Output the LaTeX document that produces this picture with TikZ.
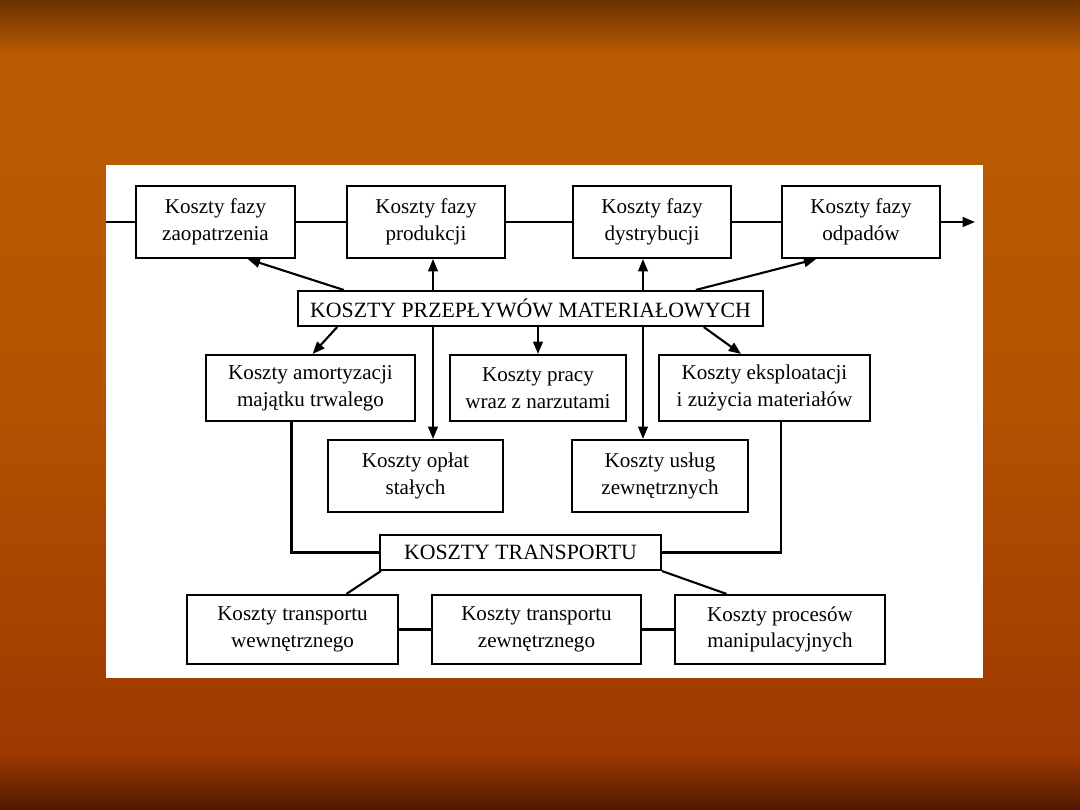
\documentclass[tikz,border=0pt]{standalone}
\usepackage{fontspec}
\setmainfont{Liberation Serif}
\usetikzlibrary{arrows.meta,calc}
\definecolor{bgtop}{HTML}{6A3300}
\definecolor{bglight}{HTML}{BB5C02}
\definecolor{bgmid}{HTML}{B55200}
\definecolor{bglow}{HTML}{9E3800}
\definecolor{bgbottom}{HTML}{4E1800}
\tikzset{
  costbox/.style={
    draw=black,
    line width=1.2pt,
    fill=white,
    align=center,
    inner sep=0pt,
    font=\fontsize{12}{15.3}\selectfont,
    minimum height=1.44cm
  },
  headbox/.style={costbox, minimum height=0.7cm, font=\fontsize{12.4}{14}\selectfont},
  flow/.style={line width=1.2pt, draw=black, -{Triangle[length=7pt,width=5.5pt]}},
  link/.style={line width=1.2pt, draw=black}
}

\begin{document}
\begin{tikzpicture}[x=0.02cm,y=-0.02cm]
\useasboundingbox (0,0) rectangle (1080,810);
% background of the slide
\fill[top color=bgtop, bottom color=bglight] (0,0) rectangle (1080,55);
\fill[top color=bglight, bottom color=bgmid] (0,54.5) rectangle (1080,400);
\fill[top color=bgmid, bottom color=bglow] (0,399.5) rectangle (1080,755);
\fill[top color=bglow, bottom color=bgbottom] (0,754.5) rectangle (1080,810);
\fill[white] (106,165) rectangle (983,678);

% phases
\node[costbox, minimum width=3.18cm] (zaop) at (215.5,222) {Koszty fazy\\zaopatrzenia};
\node[costbox, minimum width=3.16cm] (prod) at (426,222) {Koszty fazy\\produkcji};
\node[costbox, minimum width=3.16cm] (dyst) at (652,222) {Koszty fazy\\dystrybucji};
\node[costbox, minimum width=3.16cm] (odp) at (861,222) {Koszty fazy\\odpadów};
\coordinate (in) at (106,222);
\coordinate (out) at (975,222);

\node[headbox, minimum width=9.3cm] (kpm) at (530.5,308.5) {KOSZTY PRZEPŁYWÓW MATERIAŁOWYCH};

\node[costbox, minimum width=4.18cm, minimum height=1.32cm] (amort) at (310.5,388) {Koszty amortyzacji\\majątku trwalego};
\node[costbox, minimum width=3.52cm, minimum height=1.32cm] (praca) at (538,388) {Koszty pracy\\wraz z narzutami};
\node[costbox, minimum width=4.22cm, minimum height=1.32cm] (eksp) at (764.5,388) {Koszty eksploatacji\\i zużycia materiałów};

\node[costbox, minimum width=3.5cm] (oplat) at (415.5,476) {Koszty opłat\\stałych};
\node[costbox, minimum width=3.52cm] (uslug) at (660,476) {Koszty usług\\zewnętrznych};

\node[headbox, minimum width=5.62cm] (trans) at (520.5,552.5) {KOSZTY TRANSPORTU};

\node[costbox, minimum width=4.22cm, minimum height=1.38cm] (wewn) at (292.5,629.5) {Koszty transportu\\wewnętrznego};
\node[costbox, minimum width=4.18cm, minimum height=1.38cm] (zewn) at (536.5,629.5) {Koszty transportu\\zewnętrznego};
\node[costbox, minimum width=4.2cm, minimum height=1.38cm] (manip) at (780,629.5) {Koszty procesów\\manipulacyjnych};

\coordinate (spineL) at (433,308);
\coordinate (spineR) at (643,308);

% flow of the phases
\draw[link] (in) -- (zaop.west);
\draw[link] (zaop.east) -- (prod.west);
\draw[link] (prod.east) -- (dyst.west);
\draw[link] (dyst.east) -- (odp.west);
\draw[flow] (odp.east) -- (out);

\draw[flow] ($(kpm.north west)!0.1!(kpm.north east)$) -- ($(zaop.south west)!0.7!(zaop.south east)$);
\draw[flow] (kpm.north -| spineL) -- (prod.south -| spineL);
\draw[flow] (kpm.north -| spineR) -- (dyst.south -| spineR);
\draw[flow] ($(kpm.north west)!0.854!(kpm.north east)$) -- ($(odp.south west)!0.22!(odp.south east)$);

\draw[flow] ($(kpm.south west)!0.086!(kpm.south east)$) -- ($(amort.north west)!0.51!(amort.north east)$);
\draw[flow] (kpm.south -| praca.north) -- (praca.north);
\draw[flow] ($(kpm.south west)!0.871!(kpm.south east)$) -- ($(eksp.north west)!0.39!(eksp.north east)$);
\draw[flow] (kpm.south -| spineL) -- (oplat.north -| spineL);
\draw[flow] (kpm.south -| spineR) -- (uslug.north -| spineR);

% transport
\draw[link] ($(amort.south west)!0.41!(amort.south east)$) |- (trans.west);
\draw[link] ($(eksp.south west)!0.578!(eksp.south east)$) |- (trans.east);
\draw[link] ($(trans.south west)!0.007!(trans.south east)$) -- ($(wewn.north west)!0.753!(wewn.north east)$);
\draw[link] (trans.south east) -- ($(manip.north west)!0.248!(manip.north east)$);
\draw[link] (wewn.east) -- (zewn.west);
\draw[link] (zewn.east) -- (manip.west);

\end{tikzpicture}
\end{document}
